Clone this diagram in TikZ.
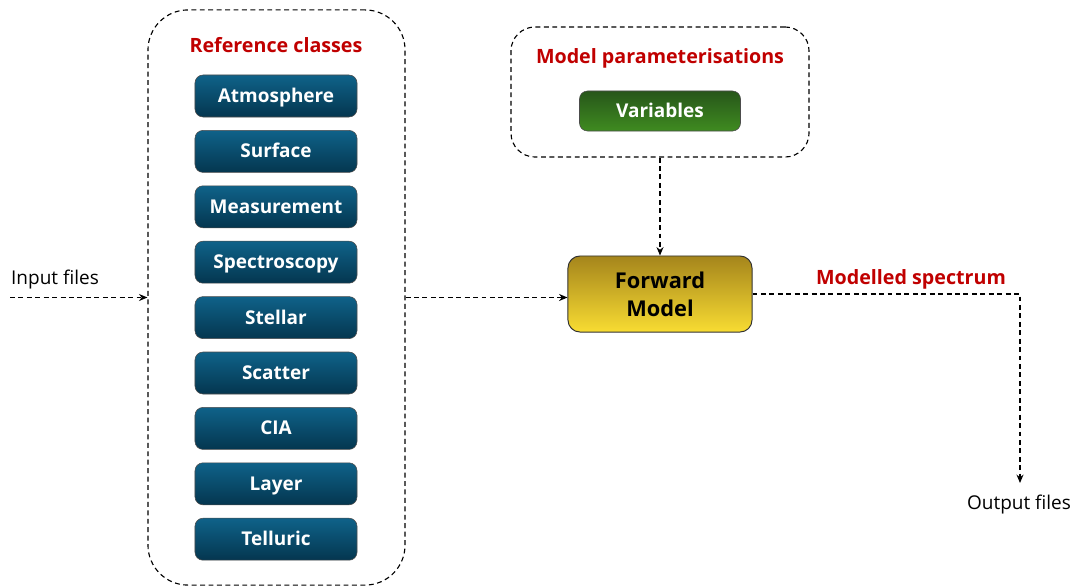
\documentclass[tikz,border=0pt]{standalone}
\usepackage{fontspec}
\setmainfont{Open Sans}
\usetikzlibrary{arrows.meta}
\definecolor{refred}{HTML}{C00000}
\definecolor{bluetop}{HTML}{0F6289}
\definecolor{bluebot}{HTML}{04364F}
\definecolor{greentop}{HTML}{27561A}
\definecolor{greenbot}{HTML}{3F8B20}
\definecolor{goldtop}{HTML}{A5851C}
\definecolor{goldbot}{HTML}{F8DC32}
\tikzset{
	group/.style={draw, line width=0.8pt, dash pattern=on 3.5pt off 2.5pt},
	classbox/.style={draw=black!70, rounded corners=0.2cm, top color=bluetop, bottom color=bluebot,
		minimum width=4.05cm, minimum height=1.05cm, text=white, text height=1.8ex, text depth=0.1ex,
		font=\fontsize{13.5}{15}\selectfont\bfseries},
	flow/.style={line width=0.8pt, dash pattern=on 3.5pt off 2.5pt, -{Stealth[length=6pt,width=5pt]}},
	title/.style={text=refred, font=\fontsize{14}{16}\selectfont\bfseries},
	plain/.style={font=\fontsize{13.5}{15}\selectfont}
}
\begin{document}
\begin{tikzpicture}[x=0.025cm, y=-0.025cm]
\useasboundingbox (0,0) rectangle (1078,586);
% reference classes
\node[group, rounded corners=1cm, minimum width=6.425cm, minimum height=14.375cm] (refbox) at (276.5,297.5) {};
\node[title] (reftitle) at (276,45) {Reference classes};
\def\cls{Atmosphere,Surface,Measurement,Spectroscopy,Stellar,Scatter,CIA,Layer,Telluric}
\foreach \name [count=\i] in \cls {
	\pgfmathsetmacro{\y}{96+(\i-1)*55.4}
	\node[classbox] (cls\i) at (276,\y) {\name};
}
% model parameterisations
\node[group, rounded corners=0.6cm, minimum width=7.45cm, minimum height=3.25cm] (parambox) at (660,92) {};
\node[title] (paramtitle) at (660,58) {Model parameterisations};
\node[classbox, top color=greentop, bottom color=greenbot, minimum width=4.025cm, minimum height=1cm] (var) at (660,111) {Variables};
% forward model
\node[draw=black!80, line width=0.7pt, rounded corners=0.3cm, top color=goldtop, bottom color=goldbot,
	minimum width=4.6cm, minimum height=1.9cm, align=center, font=\fontsize{15.5}{20}\selectfont\bfseries] (fwd) at (660,294) {Forward\\Model};
% inputs and outputs
\coordinate (in) at (10,297.5);
\coordinate (out) at (1020,483);
\node[plain] (inlabel) at (55,280) {Input files};
\node[plain] (outlabel) at (1019,505) {Output files};
\node[title] (spec) at (911,279) {Modelled spectrum};
\draw[flow] (in) -- (refbox.west);
\draw[flow] (refbox.east) -- (refbox.east -| fwd.west);
\draw[flow] (parambox.south) -- (fwd.north);
\draw[flow] (fwd.east) -- (fwd.east -| out) -- (out);
\end{tikzpicture}
\end{document}
